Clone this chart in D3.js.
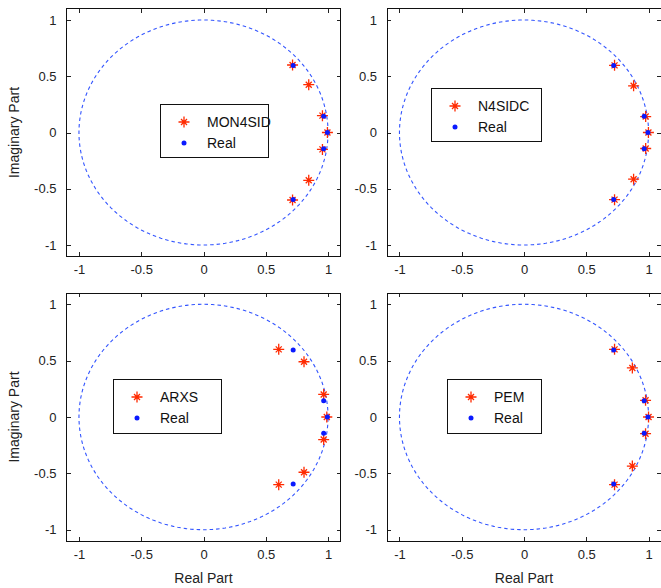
<!DOCTYPE html>
<html><head><meta charset="utf-8">
<script src="https://cdn.jsdelivr.net/npm/d3@7"></script>
<style>body{margin:0;background:#fff}svg{display:block}text{font-family:"Liberation Sans",Arial,sans-serif}</style>
</head><body>
<svg id="c" width="661" height="588"></svg>
<script>
// ---- data ----
const tickValues = [-1, -0.5, 0, 0.5, 1];
const tickLabels = ["-1", "-0.5", "0", "0.5", "1"];
const methods = ["MON4SID", "N4SIDC", "ARXS", "PEM"];
const realLabel = "Real";
const realRe = [0.72, 0.72, 0.965, 0.965, 0.995];
const realIm = [0.595, -0.595, 0.145, -0.145, 0];
const mon4sidRe = [0.715, 0.715, 0.845, 0.845, 0.955, 0.955, 0.995];
const mon4sidIm = [0.6, -0.6, 0.425, -0.425, 0.15, -0.15, 0];
const n4sidcRe = [0.727, 0.727, 0.88, 0.88, 0.977, 0.977, 0.999];
const n4sidcIm = [0.597, -0.597, 0.415, -0.415, 0.142, -0.142, 0];
const arxsRe = [0.604, 0.604, 0.807, 0.807, 0.965, 0.965, 0.99];
const arxsIm = [0.6, -0.6, 0.49, -0.49, 0.2, -0.2, 0];
const pemRe = [0.727, 0.727, 0.87, 0.87, 0.976, 0.976, 1.0];
const pemIm = [0.6, -0.6, 0.435, -0.435, 0.148, -0.148, 0];
const xLabel = "Real Part";
const yLabel = "Imaginary Part";

// ---- layout ----
const svg = d3.select("#c");
const panels = [
  {name: methods[0], re: mon4sidRe, im: mon4sidIm, x: [66.5, 340.5], y: [8.75, 256.25], lg: {x: 160, y: 104, w: 108, h: 53}, ylab: true, xlab: false},
  {name: methods[1], re: n4sidcRe, im: n4sidcIm, x: [387, 661], y: [8.75, 256.25], lg: {x: 431, y: 88, w: 110, h: 53}, ylab: false, xlab: false},
  {name: methods[2], re: arxsRe, im: arxsIm, x: [66.5, 340.5], y: [293, 541], lg: {x: 113, y: 379, w: 108, h: 54}, ylab: true, xlab: true},
  {name: methods[3], re: pemRe, im: pemIm, x: [387, 661], y: [293, 541], lg: {x: 447, y: 379, w: 94, h: 54}, ylab: false, xlab: true}
];
const starPath = "M-5.5,0H5.5M0,-5.5V5.5M-3,-3L3,3M-3,3L3,-3";
const circleAngles = d3.range(0, 361, 2);

panels.forEach(p => {
  const xs = d3.scaleLinear().domain([-1.1, 1.1]).range(p.x);
  const ys = d3.scaleLinear().domain([-1.1, 1.1]).range([p.y[1], p.y[0]]);
  const g = svg.append("g");
  const tl = 4;

  // unit circle
  const line = d3.line().x(a => xs(Math.cos(a * Math.PI / 180))).y(a => ys(Math.sin(a * Math.PI / 180)));
  g.append("path").attr("d", line(circleAngles)).attr("fill", "none")
    .attr("stroke", "#3355ff").attr("stroke-width", 1.1).attr("stroke-dasharray", "3.5,3");

  // axes: bottom, left, top, right (inward ticks)
  const fmt = (d) => tickLabels[tickValues.indexOf(d)];
  const axB = g.append("g").attr("transform", `translate(0,${p.y[1]})`)
    .call(d3.axisBottom(xs).tickValues(tickValues).tickFormat(fmt).tickSizeInner(-tl).tickSizeOuter(0).tickPadding(9));
  const axL = g.append("g").attr("transform", `translate(${p.x[0]},0)`)
    .call(d3.axisLeft(ys).tickValues(tickValues).tickFormat(fmt).tickSizeInner(-tl).tickSizeOuter(0).tickPadding(10));
  const axT = g.append("g").attr("transform", `translate(0,${p.y[0]})`)
    .call(d3.axisTop(xs).tickValues(tickValues).tickFormat("").tickSizeInner(-tl).tickSizeOuter(0));
  const axR = g.append("g").attr("transform", `translate(${p.x[1]},0)`)
    .call(d3.axisRight(ys).tickValues(tickValues).tickFormat("").tickSizeInner(-tl).tickSizeOuter(0));
  [axB, axL, axT, axR].forEach(a => {
    a.select(".domain").remove();
    a.selectAll("line").attr("stroke", "#222").attr("shape-rendering", "crispEdges");
    a.selectAll("text").attr("font-size", 13).attr("fill", "#222").attr("font-family", "Liberation Sans, Arial, sans-serif");
  });
  g.append("rect").attr("x", p.x[0]).attr("y", p.y[0]).attr("width", p.x[1] - p.x[0]).attr("height", p.y[1] - p.y[0])
    .attr("fill", "none").attr("stroke", "#111").attr("stroke-width", 1).attr("shape-rendering", "crispEdges");

  // estimated poles (red stars)
  g.selectAll("path.star").data(p.re.map((r, i) => [r, p.im[i]])).join("path").attr("class", "star")
    .attr("transform", d => `translate(${xs(d[0])},${ys(d[1])})`).attr("d", starPath)
    .attr("stroke", "#ff2a00").attr("stroke-width", 1.3).attr("fill", "none");
  // real poles (blue dots)
  g.selectAll("circle.real").data(realRe.map((r, i) => [r, realIm[i]])).join("circle").attr("class", "real")
    .attr("cx", d => xs(d[0])).attr("cy", d => ys(d[1])).attr("r", 2.5).attr("fill", "#0a1aff");

  // legend
  const L = p.lg;
  g.append("rect").attr("x", L.x).attr("y", L.y).attr("width", L.w).attr("height", L.h)
    .attr("fill", "#fff").attr("stroke", "#111").attr("stroke-width", 1).attr("shape-rendering", "crispEdges");
  g.append("path").attr("transform", `translate(${L.x + 24},${L.y + 18})`).attr("d", starPath)
    .attr("stroke", "#ff2a00").attr("stroke-width", 1.3).attr("fill", "none");
  g.append("circle").attr("cx", L.x + 24).attr("cy", L.y + 39).attr("r", 2.5).attr("fill", "#0a1aff");
  g.append("text").attr("x", L.x + 47).attr("y", L.y + 23).attr("font-size", 14).attr("fill", "#111").text(p.name);
  g.append("text").attr("x", L.x + 47).attr("y", L.y + 44).attr("font-size", 14).attr("fill", "#111").text(realLabel);

  // axis titles
  if (p.ylab) {
    const cy = (p.y[0] + p.y[1]) / 2;
    g.append("text").attr("transform", `translate(19,${cy}) rotate(-90)`).attr("text-anchor", "middle")
      .attr("font-size", 14).attr("fill", "#222").text(yLabel);
  }
  if (p.xlab) {
    g.append("text").attr("x", xs(0)).attr("y", 583).attr("text-anchor", "middle")
      .attr("font-size", 14).attr("fill", "#222").text(xLabel);
  }
});
</script>
</body></html>
